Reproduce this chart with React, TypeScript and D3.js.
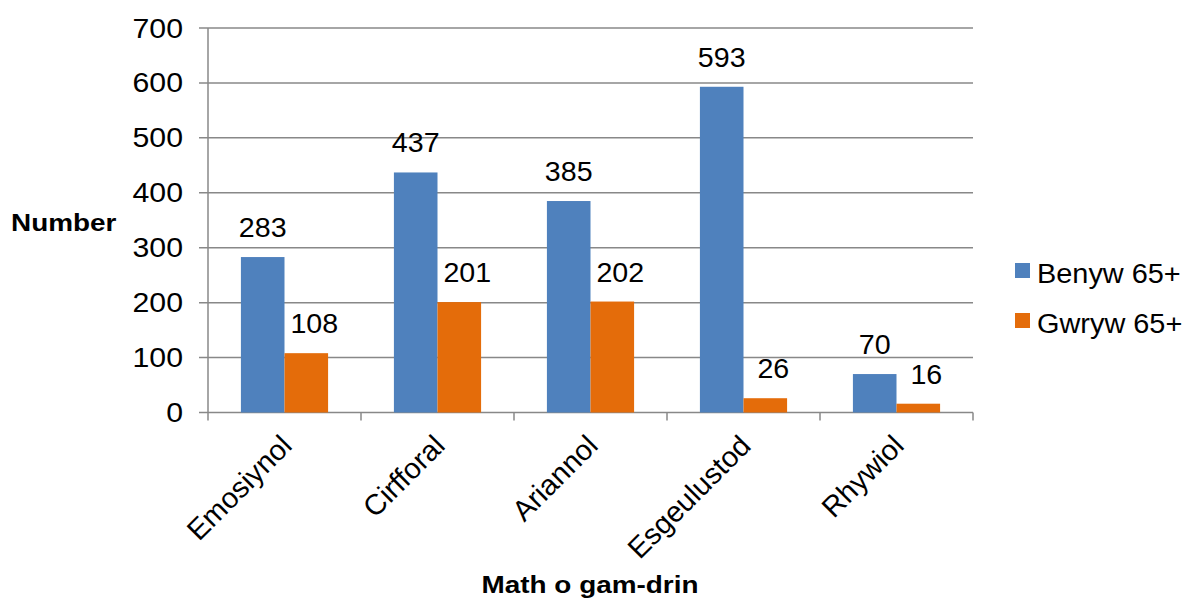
import { useEffect } from "react";
import { scaleBand, scaleLinear } from "d3";

const categories = ["Emosiynol", "Cirfforal", "Ariannol", "Esgeulustod", "Rhywiol"];
const seriesNames = ["Benyw 65+", "Gwryw 65+"];
const benyw = [283, 437, 385, 593, 70];
const gwryw = [108, 201, 202, 26, 16];
const yTicks = [0, 100, 200, 300, 400, 500, 600, 700];
const colors = ["#4F81BD", "#E46C0A"];

const W = 1186,
  H = 599;
const left = 208,
  right = 973,
  top = 28,
  bottom = 412.5;
const font = "Arial, 'Liberation Sans', sans-serif";

// text slightly stretched sideways, like the source image
function T(props: {
  x: number;
  y: number;
  size: number;
  sx?: number;
  anchor?: "start" | "middle" | "end";
  bold?: boolean;
  children: any;
}) {
  const { x, y, size, sx = 1.1, anchor = "start", bold } = props;
  return (
    <g transform={`translate(${x},${y}) scale(${sx},1)`}>
      <text textAnchor={anchor} fontSize={size} fontWeight={bold ? "bold" : "normal"} fill="#000">
        {props.children}
      </text>
    </g>
  );
}

export default function App() {
  useEffect(() => {
    document.body.style.margin = "0";
  }, []);

  const x = scaleBand<string>().domain(categories).range([left, right]);
  const y = scaleLinear().domain([0, 700]).range([bottom, top]);
  const inner = scaleBand<number>()
    .domain([0, 1])
    .range([0, x.bandwidth()])
    .paddingInner(0)
    .paddingOuter(0.755);
  const series = [benyw, gwryw];

  return (
    <svg width={W} height={H} style={{ display: "block", background: "#fff" }} fontFamily={font}>
      {yTicks.map((t) => (
        <g key={t}>
          <line x1={left - 9} x2={right} y1={y(t)} y2={y(t)} stroke="#888" strokeWidth={1.5} />
          <T x={183} y={y(t) + 9.5} size={27.5} anchor="end">
            {t}
          </T>
        </g>
      ))}
      <line x1={left} x2={left} y1={top} y2={bottom + 8} stroke="#888" strokeWidth={1.5} />
      {categories.map((c) => (
        <line
          key={c}
          x1={x(c)! + x.bandwidth()}
          x2={x(c)! + x.bandwidth()}
          y1={bottom}
          y2={bottom + 8}
          stroke="#888"
          strokeWidth={1.5}
        />
      ))}
      {series.map((vals, s) =>
        vals.map((v, i) => {
          const bx = x(categories[i])! + inner(s)!;
          return (
            <g key={s + "-" + i}>
              <rect x={bx} y={y(v)} width={inner.bandwidth()} height={bottom - y(v)} fill={colors[s]} />
              <T
                x={bx + inner.bandwidth() / 2 + (s === 1 ? 8 : 0)}
                y={y(v) - 20}
                size={27}
                sx={1.06}
                anchor="middle"
              >
                {v}
              </T>
            </g>
          );
        })
      )}
      {categories.map((c) => {
        const cx = x(c)! + x.bandwidth() / 2;
        return (
          <text
            key={c}
            transform={`translate(${cx + 9},${bottom + 35}) rotate(-45)`}
            textAnchor="end"
            fontSize={29}
            fill="#000"
          >
            {c}
          </text>
        );
      })}
      <T x={11} y={230.7} size={24.7} sx={1.13} bold>
        Number
      </T>
      <T x={590} y={593.3} size={24.7} sx={1.13} anchor="middle" bold>
        Math o gam-drin
      </T>
      {seriesNames.map((n, s) => (
        <g key={n}>
          <rect x={1015} y={263 + s * 50} width={15} height={15} fill={colors[s]} />
          <T x={1037} y={282.7 + s * 50} size={27} sx={1.07}>
            {n}
          </T>
        </g>
      ))}
    </svg>
  );
}
